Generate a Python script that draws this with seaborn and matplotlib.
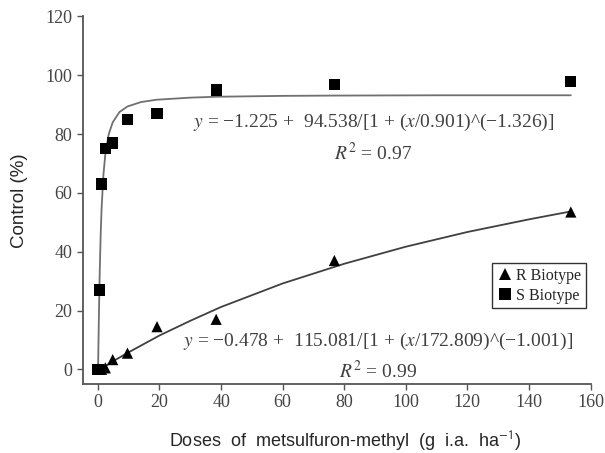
import pandas as pd
import matplotlib
matplotlib.use("Agg")
import matplotlib.pyplot as plt
import seaborn as sns

# doses of metsulfuron-methyl (g i.a. ha-1)
doses = [0, 0.3, 0.6, 1.2, 2.4, 4.8, 9.6, 19.2, 38.4, 76.8, 153.6]
r_control = [0, 0, 0, 0, 0.5, 3.3, 5.5, 14.5, 17, 37, 53.5]
s_control = [0, 0, 27, 63, 75, 77, 85, 87, 95, 97, 98]

# fitted curves, values
s_fit_x = [0, 0.05, 0.1, 0.2, 0.3, 0.45, 0.6, 0.9, 1.2, 1.8, 2.4, 3.5, 4.8, 7, 9.6, 14,
           19.2, 30, 38.4, 60, 76.8, 110, 153.6]
s_fit_y = [-1.2, 0.8, 3.6, 10.1, 16.6, 25.7, 33.6, 46.0, 54.9, 66.3, 73.1, 79.9, 84.0, 87.5,
           89.4, 90.9, 91.7, 92.4, 92.7, 93.0, 93.1, 93.2, 93.2]
r_fit_x = [0, 5, 10, 20, 30, 40, 60, 80, 100, 120, 140, 153.6]
r_fit_y = [-0.5, 2.8, 5.8, 11.5, 16.5, 21.2, 29.2, 35.9, 41.7, 46.7, 51.0, 53.7]

eq_s = "$y$ = \u22121.225 +  94.538/[1 + ($x$/0.901)^(\u22121.326)]"
eq_r = "$y$ = \u22120.478 +  115.081/[1 + ($x$/172.809)^(\u22121.001)]"
r2_s = "$R^2$ = 0.97"
r2_r = "$R^2$ = 0.99"

points = pd.DataFrame({
    "dose": doses * 2,
    "control": r_control + s_control,
    "biotype": ["R Biotype"] * len(doses) + ["S Biotype"] * len(doses),
})

sns.set_style("white")
plt.rcParams["mathtext.fontset"] = "stix"

fig = plt.figure(figsize=(6.05, 4.53), dpi=100)
ax = fig.add_axes([0.1364, 0.1523, 0.8397, 0.8113])

sns.lineplot(x=s_fit_x, y=s_fit_y, color="#707070", linewidth=1.3, ax=ax)
sns.lineplot(x=r_fit_x, y=r_fit_y, color="#404040", linewidth=1.3, ax=ax)
sns.scatterplot(data=points, x="dose", y="control", style="biotype",
                markers={"R Biotype": "^", "S Biotype": "s"},
                color="black", s=65, linewidth=0, ax=ax, zorder=3)

ax.set_xlim(-5, 160)
ax.set_ylim(-5, 120)
ax.set_xticks(range(0, 161, 20))
ax.set_yticks(range(0, 121, 20))

for side in ["top", "right"]:
    ax.spines[side].set_visible(False)
for side in ["left", "bottom"]:
    ax.spines[side].set_color("#555555")
    ax.spines[side].set_linewidth(1.3)

ax.tick_params(axis="both", direction="out", length=4, width=1, color="#555555",
               labelcolor="#444444", labelsize=13, bottom=True, left=True)
for lab in ax.get_xticklabels() + ax.get_yticklabels():
    lab.set_family("Liberation Serif")

ax.set_xlabel("Doses  of  metsulfuron-methyl  (g  i.a.  ha$^{\\mathsf{-1}}$)", fontsize=13,
              family="Liberation Sans")
ax.set_ylabel("Control (%)", fontsize=13.5, family="Liberation Sans")
ax.xaxis.set_label_coords(0.517, -0.122)
ax.yaxis.set_label_coords(-0.107, 0.5)

txt = dict(fontsize=14, family="Liberation Serif", color="#404040",
           ha="center", va="center")
ax.text(89.5, 84, eq_s, **txt)
ax.text(89.5, 73.5, r2_s, **txt)
ax.text(91, 9.5, eq_r, **txt)
ax.text(91, -0.5, r2_r, **txt)

leg = ax.legend(loc="upper left", bbox_to_anchor=(0.806, 0.33), borderaxespad=0,
                frameon=True, fancybox=False, edgecolor="black",
                prop={"family": "Liberation Serif", "size": 11.5},
                handletextpad=0.2, borderpad=0.3, labelspacing=0.25,
                handlelength=1.0)
leg.get_frame().set_linewidth(1.0)
for h in leg.legend_handles:
    h.set_color("black")

fig.savefig("out.png", dpi=100)
